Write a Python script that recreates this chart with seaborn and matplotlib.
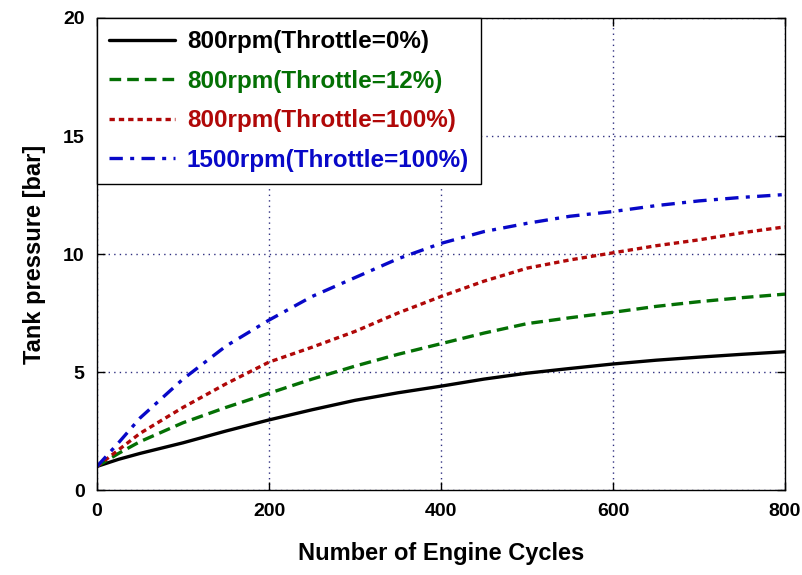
import matplotlib
matplotlib.use("Agg")
import matplotlib.pyplot as plt
import seaborn as sns
import pandas as pd

cycles = [0, 25, 50, 100, 150, 200, 250, 300, 350, 400, 450, 500, 550, 600, 650, 700, 750, 800]
p_800_0 = [1.0, 1.3, 1.55, 2.0, 2.5, 2.97, 3.4, 3.8, 4.12, 4.4, 4.7, 4.95, 5.15, 5.34, 5.5, 5.63, 5.75, 5.86]
p_800_12 = [1.0, 1.55, 2.05, 2.85, 3.5, 4.1, 4.7, 5.25, 5.75, 6.2, 6.65, 7.05, 7.3, 7.53, 7.78, 7.98, 8.15, 8.3]
p_800_100 = [1.0, 1.7, 2.4, 3.5, 4.5, 5.42, 6.05, 6.72, 7.5, 8.2, 8.85, 9.4, 9.75, 10.05, 10.35, 10.6, 10.9, 11.15]
p_1500_100 = [1.0, 2.0, 3.05, 4.7, 6.1, 7.2, 8.2, 9.0, 9.8, 10.45, 10.95, 11.3, 11.6, 11.8, 12.05, 12.25, 12.4, 12.52]
labels = ["800rpm(Throttle=0%)", "800rpm(Throttle=12%)",
          "800rpm(Throttle=100%)", "1500rpm(Throttle=100%)"]
colors = ["#000000", "#047004", "#b00808", "#0808c8"]
styles = ["-", (0, (3.5, 1.8)), (0, (1.6, 1.2)), (0, (4, 2.2, 1.2, 2.2))]

sns.set_theme(style="white")
plt.rcParams['font.family'] = ['Liberation Sans', 'DejaVu Sans']
plt.rcParams['text.color'] = 'black'
plt.rcParams['axes.labelcolor'] = 'black'

fig = plt.figure(figsize=(8.03, 5.75), dpi=100)
ax = fig.add_axes([0.1208, 0.1478, 0.8568, 0.8209])

series = [p_800_0, p_800_12, p_800_100, p_1500_100]
for lab, vals, c, ls in zip(labels, series, colors, styles):
    df = pd.DataFrame({"x": cycles, "y": vals})
    sns.lineplot(data=df, x="x", y="y", ax=ax, color=c, linestyle=ls,
                 linewidth=2.4, label=lab)

ax.set_xlim(0, 800)
ax.set_ylim(0, 20)
ax.set_xticks([0, 200, 400, 600, 800])
ax.set_yticks([0, 5, 10, 15, 20])
ax.grid(True, color="#303080", linestyle=(0, (1, 3)), linewidth=1.0)
ax.tick_params(direction="in", length=6, width=1, colors="black",
               labelsize=14, bottom=True, left=True, right=True, top=True, pad=9)
for t in ax.get_xticklabels() + ax.get_yticklabels():
    t.set_fontweight("bold")
for s in ax.spines.values():
    s.set_color("black")
    s.set_linewidth(1.0)

ax.set_xlabel("Number of Engine Cycles", fontsize=17, fontweight="bold", labelpad=16, color="black")
ax.set_ylabel("Tank pressure [bar]", fontsize=17, fontweight="bold", labelpad=12, color="black")

leg = ax.legend(loc="upper left", bbox_to_anchor=(0.0, 1.0), frameon=True,
                fancybox=False, framealpha=1, edgecolor="black",
                prop={"family": ["Liberation Sans", "DejaVu Sans"], "weight": "bold", "size": 17.5},
                handlelength=2.7, borderpad=0.5, labelspacing=0.68, handletextpad=0.5,
                borderaxespad=0.0)
leg.get_frame().set_linewidth(1.0)
for txt, c in zip(leg.get_texts(), colors):
    txt.set_color(c)

fig.savefig("out.png", dpi=100)
